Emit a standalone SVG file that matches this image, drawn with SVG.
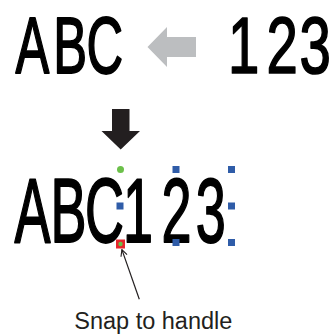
<svg xmlns="http://www.w3.org/2000/svg" width="334" height="336" viewBox="0 0 334 336">
  <defs>
    <style>
      .big { font-family: "Liberation Sans", Arial, sans-serif; fill: #000; stroke: #000; stroke-width: 1.5px; vector-effect: non-scaling-stroke; stroke-linejoin: round; }
      .lbl { font-family: "Liberation Sans", Arial, sans-serif; font-size: 23.5px; fill: #231f20; }
      .hb { fill: #2f5ca8; }
      .hg { fill: #6cc04a; }
    </style>
    <marker id="openArrow" viewBox="0 0 10 10" refX="9" refY="5" markerWidth="8" markerHeight="8" orient="auto" markerUnits="userSpaceOnUse">
      <path d="M1,1 L9,5 L1,9" fill="none" stroke="#231f20" stroke-width="1.4"/>
    </marker>
  </defs>
  <rect width="334" height="336" fill="#fff"/>

  <g id="node-abc-top">
    <text class="big" font-size="80.5" transform="translate(0,73) scale(0.63,1)" x="24.7 84.5 137.4" y="0">ABC</text>
  </g>
  <g id="node-123-top">
    <text class="big" font-size="80.5" transform="translate(0,73) scale(0.7,1)" x="325.8 380.6 427.9" y="0">123</text>
  </g>
  <g id="node-abc123-bottom">
    <text class="big" font-size="90" transform="translate(0,242) scale(0.6,1)" x="24.1 84.1 141.7 205.2 269.1 326.4" y="0">ABC123</text>
  </g>
  <g id="node-handles">
    <circle class="hg" cx="120.5" cy="169.5" r="3.5"/>
    <rect class="hb" x="116.5" y="202.5" width="7" height="7"/>
    <rect class="hb" x="172.5" y="166" width="7" height="7"/>
    <rect class="hb" x="228" y="166" width="7" height="7"/>
    <rect class="hb" x="228" y="202.5" width="7" height="7"/>
    <rect class="hb" x="172.5" y="239" width="7" height="7"/>
    <rect class="hb" x="228" y="239" width="7" height="7"/>
    <rect x="116" y="239.5" width="9" height="9" fill="#e8262c"/>
    <circle class="hg" cx="120.5" cy="244" r="2.2"/>
  </g>
  <g id="node-label">
    <text class="lbl" x="153.3" y="328.5" text-anchor="middle">Snap to handle</text>
  </g>

  <g id="connectors">
    <polygon points="147.5,47 167,27 167,37 196,37 196,57 167,57 167,67" fill="#bcbec0"/>
    <polygon points="112,109 129.5,109 129.5,131 140,131 120.7,149.5 101.5,131 112,131" fill="#231f20"/>
    <line x1="139.3" y1="299.3" x2="121.9" y2="249.6" stroke="#231f20" stroke-width="1.2" marker-end="url(#openArrow)"/>
  </g>
</svg>
